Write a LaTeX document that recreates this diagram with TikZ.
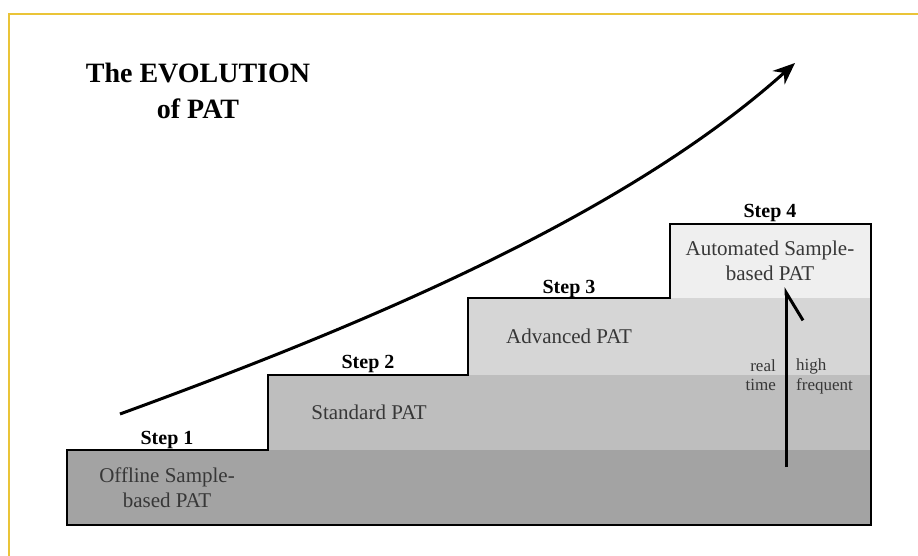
\documentclass[tikz,border=0pt]{standalone}
\usepackage{fontspec}
\setmainfont{Liberation Serif}
\usetikzlibrary{arrows.meta}
\definecolor{framegold}{RGB}{234,196,56}
\definecolor{bandone}{RGB}{163,163,163}
\definecolor{bandtwo}{RGB}{190,190,190}
\definecolor{bandthree}{RGB}{214,214,214}
\definecolor{bandfour}{RGB}{239,239,239}
\definecolor{textgray}{RGB}{55,55,55}

\begin{document}
\begin{tikzpicture}[x=1pt, y=-1pt,
    steplabel/.style={font=\fontsize{20}{24}\selectfont\bfseries, anchor=base, inner sep=0pt},
    bandtext/.style={font=\fontsize{21}{25}\selectfont, text=textgray, align=center, inner sep=0pt},
    sidetext/.style={font=\fontsize{17}{19.5}\selectfont, text=textgray, inner sep=0pt},
    outline/.style={line width=2pt, line join=miter},
    arrow/.style={-{Stealth[length=22pt, width=18pt]}, line width=3pt},
    upharpoon/.style={-{Straight Barb[harpoon, swap, length=28pt, width=34pt]}, line width=3pt}
]
\useasboundingbox (0,0) rectangle (918,556);
\draw[framegold, line width=2pt] (8.5,556) -- (8.5,14.5) -- (918,14.5);

\fill[bandone] (67,450) rectangle (871,525);
\fill[bandtwo] (268,375) rectangle (871,450);
\fill[bandthree] (468,298) rectangle (871,375);
\fill[bandfour] (670,224) rectangle (871,298);
\draw[outline] (67,525) -- (67,450) -- (268,450) -- (268,375) -- (468,375) -- (468,298)
    -- (670,298) -- (670,224) -- (871,224) -- (871,525) -- cycle;

\node[font=\fontsize{28}{36}\selectfont\bfseries, align=center, inner sep=0pt] (title) at (198,91) {The EVOLUTION\\of PAT};

\node[steplabel] (step1) at (167,444) {Step 1};
\node[steplabel] (step2) at (368,368) {Step 2};
\node[steplabel] (step3) at (569,293) {Step 3};
\node[steplabel] (step4) at (770,217.5) {Step 4};

\node[bandtext] (offline) at (167,488) {Offline Sample-\\based PAT};
\node[bandtext, anchor=base] (standard) at (369,419) {Standard PAT};
\node[bandtext, anchor=base] (advanced) at (569,343) {Advanced PAT};
\node[bandtext] (automated) at (770,260.5) {Automated Sample-\\based PAT};

\node[sidetext, align=right, anchor=east] (realtime) at (776,375) {real\\time};
\node[sidetext, align=left, anchor=west] (highfreq) at (796,376.5) {high\\frequent};

\coordinate (growstart) at (120,414);
\coordinate (growend) at (795,63);
\draw[arrow] (growstart) .. controls (350,330) and (620,220) .. (growend);

\coordinate (rtbottom) at (786,467);
\coordinate (rttop) at (786,287);
\draw[upharpoon] (rtbottom) -- (rttop);
\end{tikzpicture}
\end{document}
